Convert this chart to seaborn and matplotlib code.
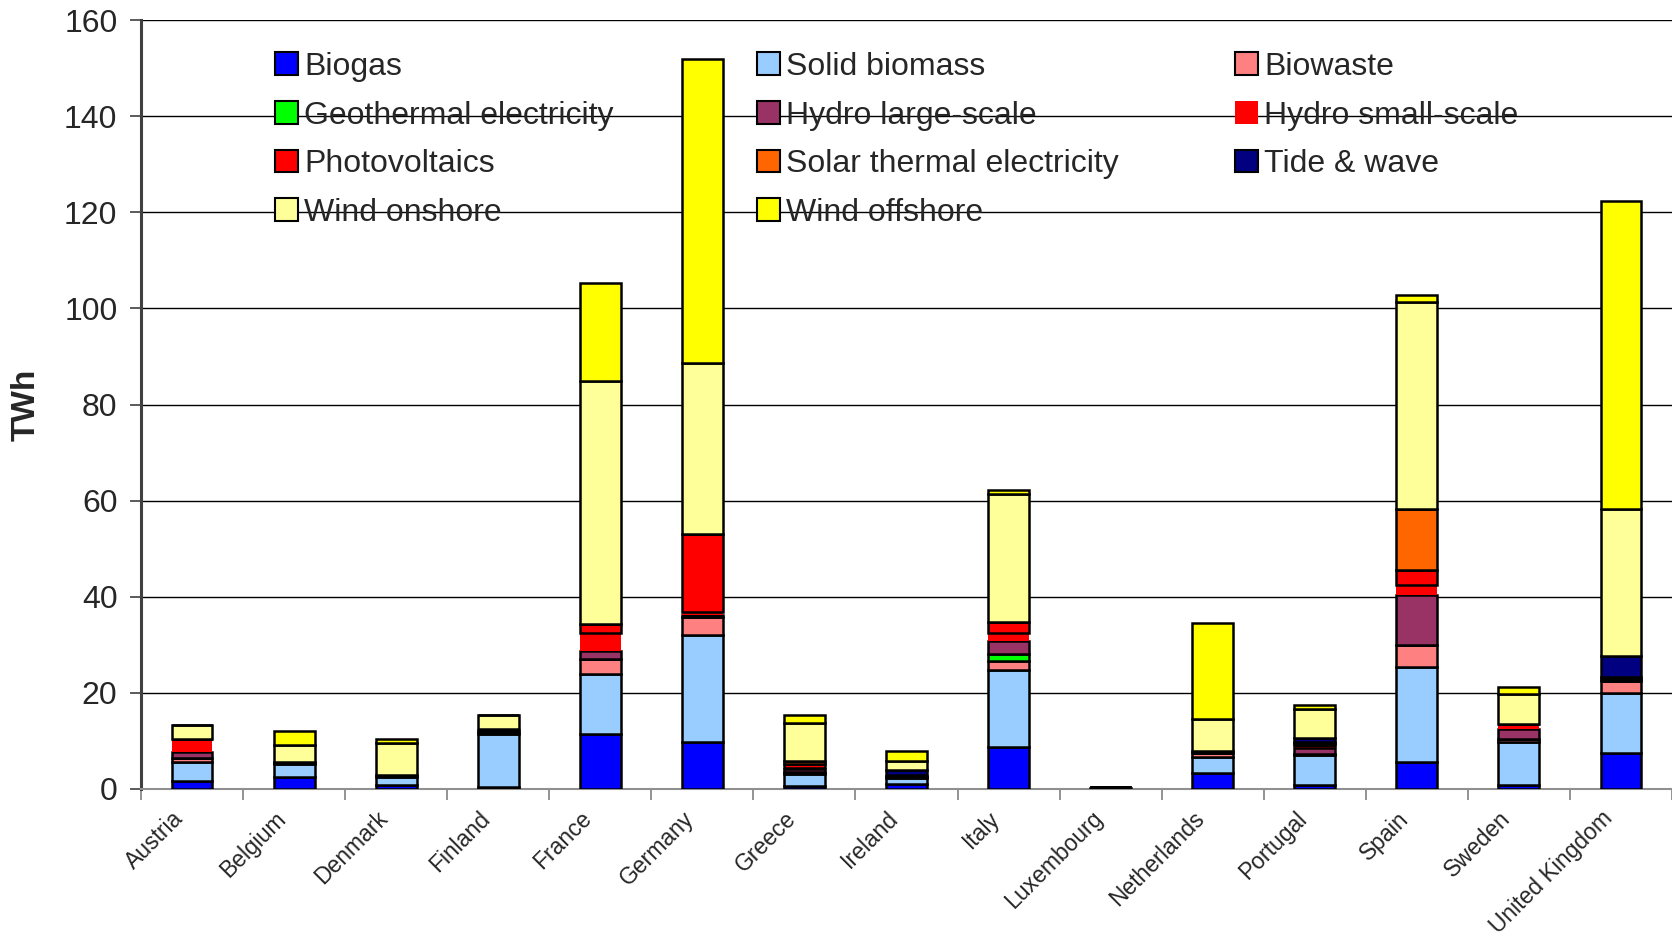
import matplotlib
matplotlib.use("Agg")
import matplotlib.pyplot as plt
from matplotlib.patches import Patch
from matplotlib.transforms import ScaledTranslation
import numpy as np
import seaborn as sns

countries = ["Austria", "Belgium", "Denmark", "Finland", "France", "Germany",
             "Greece", "Ireland", "Italy", "Luxembourg", "Netherlands",
             "Portugal", "Spain", "Sweden", "United Kingdom"]

# TWh per technology, one value per country (same order as `countries`)
biogas          = [1.7, 2.5, 0.8, 0.4, 11.5, 9.7, 0.7, 1.1, 8.8, 0.15, 3.4, 0.8, 5.7, 0.8, 7.5]
solid_biomass   = [3.9, 2.8, 1.7, 11.1, 12.5, 22.4, 2.5, 1.2, 16.0, 0.1, 3.3, 6.2, 19.7, 9.0, 12.4]
biowaste        = [0.9, 0.2, 0.4, 0.3, 3.1, 3.7, 0.3, 0.3, 1.8, 0.0, 0.7, 0.2, 4.5, 0.5, 2.5]
geothermal      = [0.0, 0.0, 0.0, 0.0, 0.0, 0.0, 0.0, 0.0, 1.5, 0.0, 0.0, 0.0, 0.0, 0.0, 0.0]
hydro_large     = [1.3, 0.05, 0.0, 0.5, 1.7, 0.3, 0.6, 0.2, 2.6, 0.0, 0.0, 1.4, 10.5, 2.1, 0.5]
hydro_small     = [2.6, 0.05, 0.0, 0.2, 3.6, 0.7, 0.3, 0.1, 1.8, 0.1, 0.0, 0.3, 2.1, 1.2, 0.0]
photovoltaics   = [0.1, 0.1, 0.0, 0.0, 1.9, 16.2, 0.8, 0.0, 2.35, 0.0, 0.5, 0.5, 3.1, 0.0, 0.3]
solar_thermal   = [0.0, 0.0, 0.0, 0.0, 0.0, 0.0, 0.6, 0.0, 0.0, 0.0, 0.0, 0.4, 12.6, 0.0, 0.0]
tide_wave       = [0.0, 0.0, 0.0, 0.0, 0.0, 0.0, 0.0, 1.0, 0.0, 0.0, 0.0, 0.9, 0.0, 0.0, 4.4]
wind_onshore    = [2.9, 3.5, 6.6, 3.0, 50.6, 35.6, 7.9, 1.9, 26.6, 0.15, 6.6, 6.0, 43.1, 6.2, 30.7]
wind_offshore   = [0.0, 2.8, 1.0, 0.0, 20.4, 63.2, 1.8, 2.1, 0.7, 0.0, 20.0, 0.7, 1.5, 1.5, 64.0]

source_names = ["Biogas", "Solid biomass", "Biowaste", "Geothermal electricity",
                "Hydro large-scale", "Hydro small-scale", "Photovoltaics",
                "Solar thermal electricity", "Tide & wave", "Wind onshore",
                "Wind offshore"]
source_values = [biogas, solid_biomass, biowaste, geothermal, hydro_large,
                 hydro_small, photovoltaics, solar_thermal, tide_wave,
                 wind_onshore, wind_offshore]
source_colors = ["#0000FF", "#99CCFF", "#FF8080", "#00FF00", "#993366",
                 "#FF0000", "#FF0000", "#FF6600", "#000080", "#FFFF99",
                 "#FFFF00"]
# small-scale hydro is drawn without an outline
source_edges = ["black"] * 5 + ["none"] + ["black"] * 5

yticks = [0, 20, 40, 60, 80, 100, 120, 140, 160]

sns.set_theme(style="white")
plt.rcParams["font.family"] = ["Liberation Sans", "DejaVu Sans"]

W, H = 1672, 940
fig = plt.figure(figsize=(W / 100, H / 100), dpi=100)
ax = fig.add_axes([141 / W, 1 - 789 / H, (W - 141) / W, (789 - 20) / H])

bottom = np.zeros(len(countries))
for name, vals, col, edge in zip(source_names, source_values, source_colors, source_edges):
    vals = np.asarray(vals, dtype=float)
    sns.barplot(x=countries, y=vals, order=countries, bottom=bottom,
                color=col, saturation=1, width=0.4, errorbar=None,
                edgecolor=edge, linewidth=1.8 if edge != "none" else 0,
                ax=ax, zorder=3)
    bottom += vals

ax.set_xlim(-0.5, len(countries) - 0.5)
ax.set_ylim(0, 160)
ax.set_yticks(yticks)
ax.set_yticklabels([str(v) for v in yticks], fontsize=23)
ax.yaxis.grid(True, color="black", linewidth=1.0, zorder=0)
ax.set_axisbelow(True)
ax.set_xlabel("")
ax.set_ylabel("")

# category labels under each bar, boundary ticks between bars
ax.set_xticks(range(len(countries)))
ax.set_xticklabels(countries, rotation=45, ha="right", rotation_mode="anchor",
                   fontsize=16.5)
ax.tick_params(axis="x", which="major", length=0, pad=13)
ax.set_xticks(np.arange(-0.5, len(countries)), minor=True)
ax.tick_params(axis="x", which="minor", length=8, width=1.2, color="#808080",
               direction="out", bottom=True)
ax.tick_params(axis="y", length=8, width=1.2, color="#404040",
               direction="out", left=True, pad=9)
for lab in ax.get_xticklabels():
    lab.set_transform(lab.get_transform() + ScaledTranslation(-20 / 100, 0, fig.dpi_scale_trans))

for side in ["top", "right"]:
    ax.spines[side].set_visible(False)
ax.spines["left"].set_color("#404040")
ax.spines["left"].set_linewidth(2.2)
ax.spines["bottom"].set_color("#909090")
ax.spines["bottom"].set_linewidth(1.5)

fig.text(26 / W, 1 - 405 / H, "TWh", rotation=90, ha="center", va="center",
         fontsize=24, fontweight="bold")

# legend laid out in three fixed columns, filled row by row
handles = [Patch(facecolor=c, edgecolor=e, linewidth=1.5 if e != "none" else 0)
           for c, e in zip(source_colors, source_edges)]
col_x = [275, 757, 1235]
for ci, x in enumerate(col_x):
    idx = list(range(ci, len(source_names), 3))
    leg = ax.legend([handles[i] for i in idx], [source_names[i] for i in idx],
                    loc="upper left", bbox_to_anchor=(x / W, 1 - 52 / H),
                    bbox_transform=fig.transFigure, frameon=False,
                    fontsize=23, borderpad=0, borderaxespad=0,
                    handlelength=0.72, handleheight=0.72, handletextpad=0.2,
                    labelspacing=0.58)
    leg.set_zorder(5)
    if ci < len(col_x) - 1:
        ax.add_artist(leg)

fig.savefig("out.png", dpi=100)
